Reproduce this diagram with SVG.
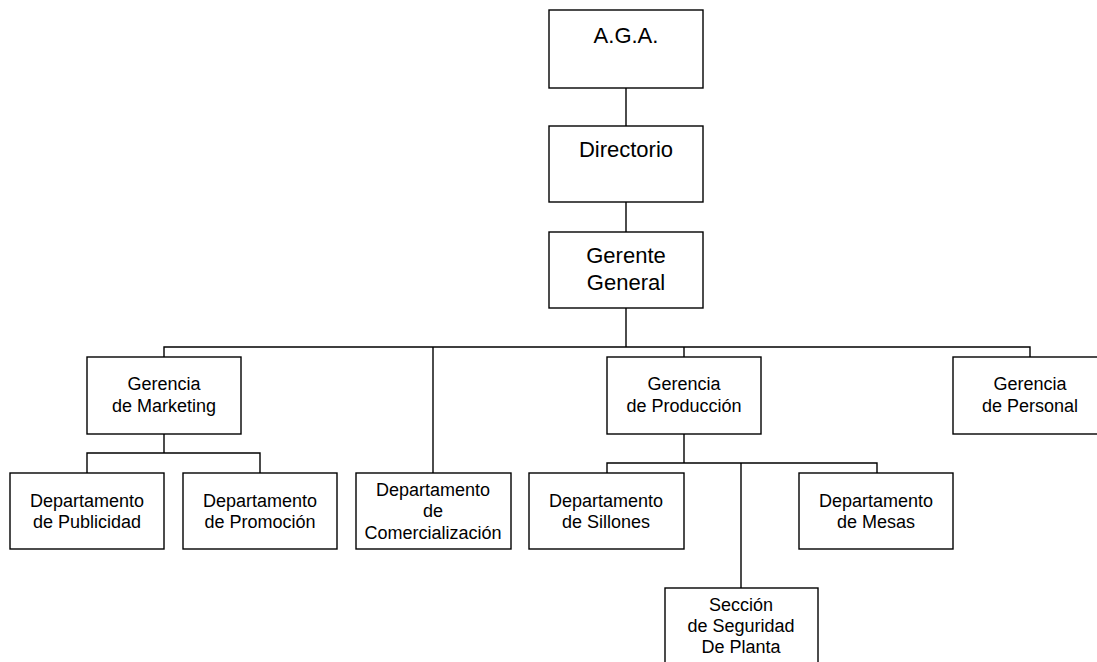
<svg xmlns="http://www.w3.org/2000/svg" width="1097" height="662" viewBox="0 0 1097 662">
<style>
rect{fill:#fff;stroke:#000;stroke-width:1.4}
.c line,.c path{stroke:#000;stroke-width:1.4;fill:none}
text{font-family:"Liberation Sans",Arial,sans-serif;font-size:18px;text-anchor:middle;fill:#000}
.big{font-size:22px}
</style>
<rect x="0" y="0" width="1097" height="662" style="stroke:none"/>
<g class="c" id="connectors">
<line x1="626" y1="88" x2="626" y2="126"/>
<line x1="626" y1="202" x2="626" y2="232"/>
<line x1="626" y1="308" x2="626" y2="347"/>
<path d="M164 357V347H1030V357"/>
<line x1="433" y1="347" x2="433" y2="473"/>
<line x1="684" y1="347" x2="684" y2="357"/>
<path d="M164 434V453M87 473V453H260V473"/>
<path d="M684 434V463M607 473V463H877V473M741 463V588"/>
</g>
<g id="aga"><rect x="549" y="10" width="154" height="78"/><text class="big" x="626" y="43">A.G.A.</text></g>
<g id="directorio"><rect x="549" y="126" width="154" height="76"/><text class="big" x="626" y="157">Directorio</text></g>
<g id="gerente"><rect x="549" y="232" width="154" height="76"/><text class="big" x="626" y="263">Gerente</text><text class="big" x="626" y="290">General</text></g>
<g id="marketing"><rect x="87" y="357" width="154" height="77"/><text x="164" y="390">Gerencia</text><text x="164" y="412">de Marketing</text></g>
<g id="produccion"><rect x="607" y="357" width="154" height="77"/><text x="684" y="390">Gerencia</text><text x="684" y="412">de Producción</text></g>
<g id="personal"><rect x="953" y="357" width="154" height="77"/><text x="1030" y="390">Gerencia</text><text x="1030" y="412">de Personal</text></g>
<g id="publicidad"><rect x="10" y="473" width="154" height="76"/><text x="87" y="507">Departamento</text><text x="87" y="528">de Publicidad</text></g>
<g id="promocion"><rect x="183" y="473" width="154" height="76"/><text x="260" y="507">Departamento</text><text x="260" y="528">de Promoción</text></g>
<g id="comercializacion"><rect x="356" y="473" width="155" height="76"/><text x="433" y="496">Departamento</text><text x="433" y="517">de</text><text x="433" y="539">Comercialización</text></g>
<g id="sillones"><rect x="529" y="473" width="155" height="76"/><text x="606" y="507">Departamento</text><text x="606" y="528">de Sillones</text></g>
<g id="mesas"><rect x="799" y="473" width="154" height="76"/><text x="876" y="507">Departamento</text><text x="876" y="528">de Mesas</text></g>
<g id="seccion"><rect x="665" y="588" width="153" height="78"/><text x="741" y="611">Sección</text><text x="741" y="632">de Seguridad</text><text x="741" y="653">De Planta</text></g>
</svg>
